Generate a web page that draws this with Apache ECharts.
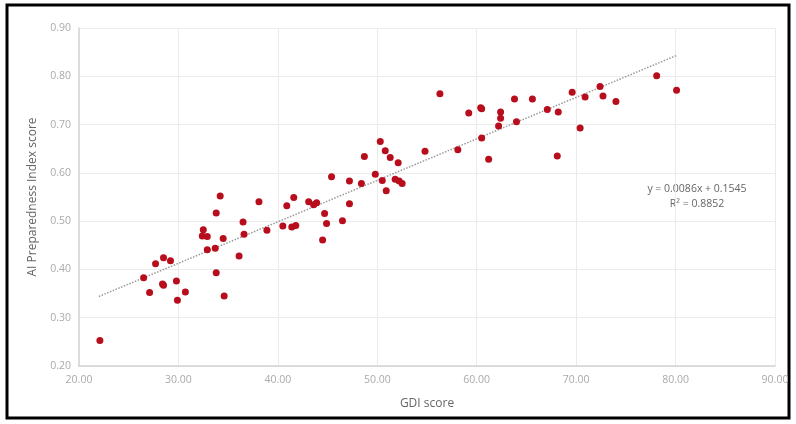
<!DOCTYPE html>
<html>
<head>
<meta charset="utf-8">
<script src="https://cdn.jsdelivr.net/npm/echarts@6/dist/echarts.min.js"></script>
<style>
  html, body { margin: 0; padding: 0; background: #fff; }
  #chart { width: 796px; height: 424px; }
</style>
</head>
<body>
<div id="chart"></div>
<script>
// GDI score vs AI Preparedness Index score
const gdiScore = [
  22.1, 26.5, 27.1, 27.7, 28.4, 28.5, 28.5, 29.2, 29.8, 29.9,
  30.7, 32.5, 32.4, 32.9, 32.9, 33.7, 34.5, 33.8, 34.6, 36.1,
  34.2, 33.8, 36.5, 36.6, 38.1, 38.9, 40.5, 40.9, 41.6, 41.4,
  41.8, 43.1, 43.6, 43.9, 44.7, 44.9, 44.5, 46.5, 45.4, 47.2,
  47.2, 48.7, 48.4, 49.8, 50.3, 50.8, 51.3, 52.1, 50.5, 50.9,
  51.8, 52.2, 52.5, 54.8, 58.1, 60.5, 61.2, 56.3, 59.2, 60.4,
  60.5, 62.4, 62.4, 62.2, 64.0, 63.8, 65.6, 67.1, 68.2, 69.6,
  70.9, 70.4, 68.1, 72.4, 72.7, 74.0, 78.1, 80.1
];
const aiScore = [
  0.253, 0.383, 0.352, 0.412, 0.370, 0.367, 0.424, 0.418, 0.376, 0.336,
  0.353, 0.482, 0.469, 0.468, 0.441, 0.444, 0.464, 0.393, 0.345, 0.428,
  0.552, 0.517, 0.498, 0.473, 0.540, 0.481, 0.490, 0.532, 0.549, 0.488,
  0.491, 0.540, 0.534, 0.538, 0.516, 0.495, 0.461, 0.501, 0.592, 0.583,
  0.536, 0.634, 0.578, 0.597, 0.665, 0.646, 0.632, 0.621, 0.584, 0.563,
  0.587, 0.583, 0.578, 0.645, 0.648, 0.672, 0.628, 0.764, 0.724, 0.735,
  0.733, 0.726, 0.713, 0.697, 0.706, 0.753, 0.753, 0.731, 0.726, 0.767,
  0.757, 0.693, 0.635, 0.779, 0.759, 0.748, 0.801, 0.771
];
// ends of the dotted trend line
const trendX = [22.0, 80.2];
const trendY = [0.344, 0.844];
const trendText = ['y = 0.0086x + 0.1545', 'R² = 0.8852'];

const points = gdiScore.map((x, i) => [x, aiScore[i]]);
const trend = trendX.map((x, i) => [x, trendY[i]]);

const myChart = echarts.init(document.getElementById('chart'));
const fontFamily = '"Open Sans", "Noto Sans", sans-serif';

let option = {
  animation: false,
  textStyle: { fontFamily: fontFamily },
  grid: { left: 79, top: 28, width: 696, height: 338, containLabel: false },
  xAxis: {
    type: 'value',
    min: 20,
    max: 90,
    interval: 10,
    name: 'GDI score',
    nameLocation: 'middle',
    nameGap: 32,
    nameTextStyle: { color: '#666', fontSize: 12, fontFamily: fontFamily },
    axisLine: { show: true, lineStyle: { color: '#d4d4d4', width: 1.5 } },
    axisTick: { show: false },
    axisLabel: {
      color: '#aaa', fontSize: 10.5, margin: 9, fontFamily: fontFamily,
      formatter: v => v.toFixed(2)
    },
    splitLine: { show: true, lineStyle: { color: '#ebebeb', width: 1 } }
  },
  yAxis: {
    type: 'value',
    min: 0.2,
    max: 0.9,
    interval: 0.1,
    name: 'AI Preparedness Index score',
    nameLocation: 'middle',
    nameGap: 40,
    nameTextStyle: { color: '#666', fontSize: 12, fontFamily: fontFamily },
    axisLine: { show: true, lineStyle: { color: '#d4d4d4', width: 1.5 } },
    axisTick: { show: false },
    axisLabel: {
      color: '#aaa', fontSize: 10.5, margin: 8, fontFamily: fontFamily,
      formatter: v => v.toFixed(2)
    },
    splitLine: { show: true, lineStyle: { color: '#ebebeb', width: 1 } }
  },
  series: [
    {
      name: 'trend',
      type: 'line',
      data: trend,
      symbol: 'none',
      silent: true,
      lineStyle: { color: '#9a9a9a', width: 1.5, type: [1.5, 1.5] },
      z: 1
    },
    {
      name: 'countries',
      type: 'scatter',
      data: points,
      symbolSize: 7,
      itemStyle: { color: '#b80d1c', opacity: 1 },
      z: 2
    }
  ],
  graphic: [
    {
      type: 'rect',
      shape: { x: 7, y: 5, width: 782, height: 413 },
      style: { fill: 'none', stroke: '#000', lineWidth: 3 },
      silent: true
    },
    {
      type: 'text',
      x: 697,
      y: 182,
      style: {
        text: trendText.join('\n'),
        align: 'center',
        verticalAlign: 'top',
        fill: '#666',
        font: '10.5px ' + fontFamily,
        lineHeight: 15
      }
    }
  ]
};
myChart.setOption(option);
</script>
</body>
</html>
